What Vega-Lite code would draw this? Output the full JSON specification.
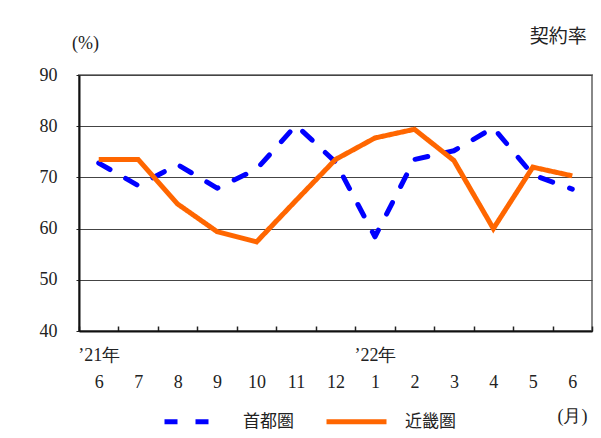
{
  "$schema": "https://vega.github.io/schema/vega-lite/v6.json",
  "width": 513,
  "height": 256,
  "autosize": {"type": "none"},
  "padding": {"left": 79, "top": 75, "right": 9, "bottom": 107},
  "background": "white",
  "title": {
    "text": "契約率",
    "anchor": "end",
    "orient": "top",
    "offset": 0,
    "dy": 13,
    "dx": -6,
    "font": "Noto Sans CJK JP",
    "fontSize": 19,
    "fontWeight": "normal",
    "color": "#222"
  },
  "config": {
    "view": {"stroke": "#888", "strokeWidth": 2},
    "axis": {"labelFont": "Liberation Serif", "titleFont": "Liberation Serif"},
    "legend": {
      "orient": "none",
      "legendX": 83,
      "legendY": 314,
      "direction": "horizontal",
      "symbolType": "stroke",
      "symbolSize": 3600,
      "symbolStrokeWidth": 5,
      "labelFont": "Noto Sans CJK JP",
      "labelFontSize": 17,
      "labelColor": "#222",
      "labelOffset": 16,
      "columnPadding": 22
    }
  },
  "data": {
    "values": [
      {"ym": "21-06", "series": "首都圏", "rate": 72.8},
      {"ym": "21-07", "series": "首都圏", "rate": 68.4},
      {"ym": "21-08", "series": "首都圏", "rate": 72.5},
      {"ym": "21-09", "series": "首都圏", "rate": 67.9},
      {"ym": "21-10", "series": "首都圏", "rate": 71.6},
      {"ym": "21-11", "series": "首都圏", "rate": 80.2},
      {"ym": "21-12", "series": "首都圏", "rate": 73.0},
      {"ym": "22-01", "series": "首都圏", "rate": 58.4},
      {"ym": "22-02", "series": "首都圏", "rate": 73.5},
      {"ym": "22-03", "series": "首都圏", "rate": 75.2},
      {"ym": "22-04", "series": "首都圏", "rate": 79.7},
      {"ym": "22-05", "series": "首都圏", "rate": 70.5},
      {"ym": "22-06", "series": "首都圏", "rate": 67.7},
      {"ym": "21-06", "series": "近畿圏", "rate": 73.5},
      {"ym": "21-07", "series": "近畿圏", "rate": 73.5},
      {"ym": "21-08", "series": "近畿圏", "rate": 64.8},
      {"ym": "21-09", "series": "近畿圏", "rate": 59.4},
      {"ym": "21-10", "series": "近畿圏", "rate": 57.4},
      {"ym": "21-11", "series": "近畿圏", "rate": 65.5},
      {"ym": "21-12", "series": "近畿圏", "rate": 73.5},
      {"ym": "22-01", "series": "近畿圏", "rate": 77.7},
      {"ym": "22-02", "series": "近畿圏", "rate": 79.4},
      {"ym": "22-03", "series": "近畿圏", "rate": 73.3},
      {"ym": "22-04", "series": "近畿圏", "rate": 60.0},
      {"ym": "22-05", "series": "近畿圏", "rate": 72.0},
      {"ym": "22-06", "series": "近畿圏", "rate": 70.3}
    ]
  },
  "encoding": {
    "x": {
      "field": "ym",
      "type": "ordinal",
      "bandPosition": 0.5,
      "scale": {"type": "band", "paddingInner": 0, "paddingOuter": 0},
      "axis": {
        "title": "(月)",
        "titleFont": "Liberation Serif",
        "titleFontSize": 18,
        "titleFontWeight": "normal",
        "titleColor": "#222",
        "titleX": 493,
        "titleY": 85,
        "titleAlign": "center",
        "titleBaseline": "middle",
        "labelAngle": 0,
        "labelFont": "Liberation Serif",
        "labelFontSize": 18,
        "labelColor": "#222",
        "labelLineHeight": 27,
        "labelPadding": 20,
        "labelBaseline": "top",
        "labelExpr": "datum.value == null ? '' : datum.value == '21-06' ? ['’21年', '6'] : datum.value == '22-01' ? ['’22年', '1'] : ['', '' + toNumber(split(datum.value, '-')[1])]",
        "tickBand": "extent",
        "tickSize": -5,
        "tickColor": "#222",
        "tickWidth": 1.5,
        "domainColor": "#111",
        "domainWidth": 2,
        "grid": false
      }
    },
    "y": {
      "field": "rate",
      "type": "quantitative",
      "scale": {"domain": [40, 90], "nice": false, "zero": false},
      "axis": {
        "values": [40, 50, 60, 70, 80, 90],
        "title": "(%)",
        "titleFont": "Liberation Serif",
        "titleFontSize": 18,
        "titleFontWeight": "normal",
        "titleColor": "#222",
        "titleAngle": 0,
        "titleX": 6,
        "titleY": -32,
        "titleAlign": "center",
        "titleBaseline": "middle",
        "labelFont": "Liberation Serif",
        "labelFontSize": 18,
        "labelColor": "#222",
        "labelPadding": 19,
        "tickSize": 3,
        "tickColor": "#222",
        "domainColor": "#111",
        "domainWidth": 2,
        "grid": true,
        "gridColor": "#444",
        "gridWidth": 1
      }
    },
    "color": {
      "field": "series",
      "type": "nominal",
      "title": null,
      "scale": {"domain": ["首都圏", "近畿圏"], "range": ["#0000FF", "#FF6600"]}
    },
    "strokeDash": {
      "field": "series",
      "type": "nominal",
      "title": null,
      "scale": {"domain": ["首都圏", "近畿圏"], "range": [[13, 18], [1, 0]]}
    }
  },
  "layer": [
    {
      "transform": [{"filter": "datum.series == '首都圏'"}],
      "mark": {"type": "line", "strokeWidth": 5, "strokeCap": "round", "strokeJoin": "round"}
    },
    {
      "transform": [{"filter": "datum.series == '近畿圏'"}],
      "mark": {"type": "line", "strokeWidth": 5, "strokeCap": "butt", "strokeJoin": "miter"}
    }
  ]
}
